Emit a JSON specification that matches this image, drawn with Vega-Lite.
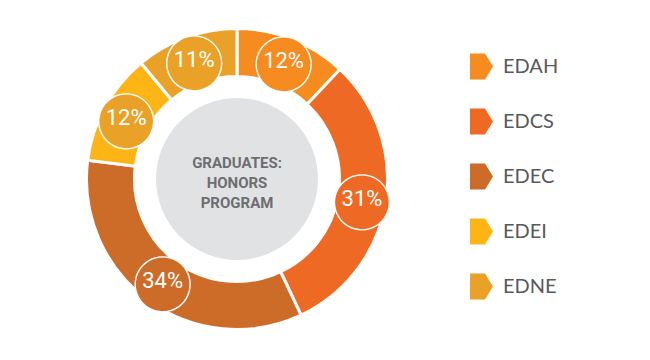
{
  "$schema": "https://vega.github.io/schema/vega-lite/v6.json",
  "width": 474,
  "height": 358,
  "autosize": {"type": "none"},
  "padding": {"left": 0, "top": 0, "right": 176, "bottom": 2},
  "background": "white",
  "config": {"view": {"stroke": null}},
  "datasets": {
    "share": [
      {"dept": "EDAH", "share": 0.12},
      {"dept": "EDCS", "share": 0.31},
      {"dept": "EDEC", "share": 0.34},
      {"dept": "EDEI", "share": 0.12},
      {"dept": "EDNE", "share": 0.11}
    ],
    "center": [{"title": "GRADUATES:\nHONORS\nPROGRAM"}]
  },
  "layer": [
    {
      "data": {"name": "share"},
      "mark": {"type": "arc", "radius": 150.5, "radius2": 102.5, "stroke": "white", "strokeWidth": 3},
      "encoding": {
        "theta": {"field": "share", "type": "quantitative", "stack": true},
        "order": {"field": "dept", "type": "ordinal", "sort": "ascending"},
        "color": {
          "field": "dept",
          "type": "nominal",
          "scale": {
            "domain": ["EDAH", "EDCS", "EDEC", "EDEI", "EDNE"],
            "range": ["#F68B1F", "#EE6A24", "#CD6C29", "#FDB515", "#E9A128"]
          },
          "legend": {
            "orient": "none",
            "legendX": 468.5,
            "legendY": 53.5,
            "title": null,
            "symbolType": "M-0.885,-1H0.27L0.885,0L0.27,1H-0.885Z",
            "symbolSize": 676,
            "symbolStrokeWidth": 0,
            "symbolOpacity": 1,
            "labelFont": "Lato",
            "labelFontSize": 20,
            "labelColor": "#58595b",
            "labelOffset": 8.5,
            "rowPadding": 29,
            "padding": 0
          }
        }
      }
    },
    {
      "data": {"name": "center"},
      "mark": {"type": "arc", "radius": 81, "theta": 0, "theta2": 6.2832, "fill": "#e1e2e3"},
      "encoding": {}
    },
    {
      "data": {"name": "share"},
      "mark": {"type": "text", "text": "●", "radius": 126.5, "font": "DejaVu Sans", "fontSize": 72, "stroke": "white", "strokeWidth": 1.3, "baseline": "middle", "align": "center"},
      "encoding": {
        "theta": {"field": "share", "type": "quantitative", "stack": true},
        "order": {"field": "dept", "type": "ordinal", "sort": "ascending"},
        "color": {
          "condition": {"test": "datum.dept === 'EDEI'", "value": "#E9A128"},
          "field": "dept",
          "type": "nominal"
        }
      }
    },
    {
      "data": {"name": "share"},
      "mark": {"type": "text", "radius": 126.5, "font": "Roboto, sans-serif", "fontSize": 22, "fill": "white", "baseline": "middle", "align": "center"},
      "encoding": {
        "theta": {"field": "share", "type": "quantitative", "stack": true},
        "order": {"field": "dept", "type": "ordinal", "sort": "ascending"},
        "detail": {"field": "dept", "type": "nominal"},
        "text": {"field": "share", "type": "quantitative", "format": ".0%"}
      }
    },
    {
      "data": {"name": "center"},
      "mark": {"type": "text", "font": "Roboto, sans-serif", "fontWeight": "bold", "fontSize": 15, "lineBreak": "\n", "lineHeight": 20, "fill": "#6d6e71", "dy": -16.5, "baseline": "middle", "align": "center"},
      "encoding": {"text": {"field": "title", "type": "nominal"}}
    }
  ]
}
